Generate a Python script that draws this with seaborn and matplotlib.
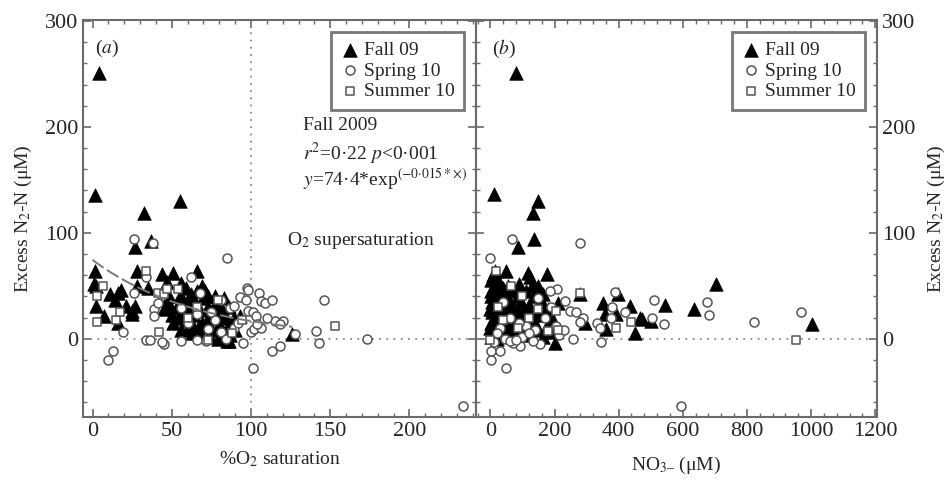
import numpy as np
import pandas as pd
import matplotlib
matplotlib.use("Agg")
import matplotlib.pyplot as plt
from matplotlib.ticker import MultipleLocator
import seaborn as sns

sns.set_style("ticks")
plt.rcParams["font.family"] = ["Liberation Serif", "DejaVu Serif"]
plt.rcParams["mathtext.fontset"] = "stix"

# ---------------- data ----------------
seasons = ["Fall 09", "Spring 10", "Summer 10"]

# Panel (a): %O2 saturation vs excess N2-N
fall_a_x = [4, 1.3, 32.5, 55, 37, 27, 1.5, 1, 2, 28, 44, 51, 66, 28, 35, 47, 56, 69, 77, 11, 16, 18,
            2, 7, 14, 21, 25, 27, 25, 16, 47, 49, 51, 59, 79, 86, 85, 93, 126,
            55, 58, 60, 62, 64, 65, 67, 68, 70, 72, 73, 75, 76, 78, 80, 82, 83, 84, 86, 88, 87,
            60, 57, 53, 63, 66, 71, 74, 69, 61, 54, 81, 89, 77, 59, 64, 50, 56, 48, 45, 80, 90,
            62, 68, 73, 85, 83]
fall_a_y = [251, 136, 119, 130, 92, 87, 64, 52, 50, 64, 61, 62, 64, 50, 48, 54, 53, 50, 40, 42, 43, 46,
            31, 21, 37, 31, 26, 31, 23, 15, 37, 31, 15, 18, 0, -2, 9, 21, 4,
            40, 35, 28, 42, 22, 33, 12, 27, 38, 18, 30, 8, 24, 35, 14, 28, 5, 20, 30, 12, 3,
            10, 25, 30, 5, 45, 45, 2, 15, 38, 20, 22, 20, 28, 48, 36, 22, 8, 40, 28, 33, 8,
            16, 6, 40, -2, 38]
spring_a_x = [26, 38, 85, 34, 62, 97.5, 98, 93, 97, 105, 106, 109, 113, 146, 98, 101, 103, 115, 120,
              118, 100, 102, 106, 141, 128, 143, 173, 95, 118, 113, 101, 10, 13, 234, 19, 33.5, 36,
              45, 44, 56, 66, 71.5, 39, 39, 26, 68, 81, 87, 89, 77, 73, 81, 89, 56, 66, 43, 41, 60,
              75, 84, 92, 104, 110]
spring_a_y = [94, 90, 76, 58, 58, 48, 46, 39, 37, 43, 36, 34, 37, 37, 26, 25, 21, 17, 17,
              14, 6, 9, 10, 7, 4, -4, 0, -4, -7, -12, -28, -20, -12, -64, 6, -1, -1,
              -5, -3, -2, -1, -2, 28, 21, 43, 43, 37, 29, 31, 18, 9, 6, 10, 29, 23, 42, 34, 15,
              25, 0, 15, 14, 20]
summer_a_x = [3, 6.5, 3, 33.5, 14.5, 17.5, 42, 153, 41, 45, 47, 54, 94, 73, 79, 66, 60, 88]
summer_a_y = [40, 50, 16, 64, 18, 25, 6, 12, 43, 42, 47, 47, 18, -1, 37, 30, 20, 5]

# Panel (b): NO3- vs excess N2-N
fall_b_x = [81, 10, 149, 133, 136, 86, 14, 50, 118, 177, 123, 149, 164, 703, 279, 398, 352, 435, 544,
            635, 357, 393, 466, 474, 502, 362, 294, 450, 1002, 201, 191, 211, 195,
            2, 3, 4, 5, 2, 6, 8, 10, 12, 15, 18, 20, 22, 25, 28, 30, 33, 35, 38, 40, 45, 48, 52,
            55, 58, 62, 65, 70, 72, 75, 80, 85, 90, 95, 100, 105, 110, 115, 120, 125, 130, 135,
            140, 145, 150, 155, 160, 170, 180, 0, 1, 0, 3, 60, 88, 130, 175, 165]
fall_b_y = [251, 137, 130, 119, 94, 87, 64, 64, 62, 61, 58, 50, 42, 52, 42, 42, 34, 31, 32,
            28, 23, 23, 20, 19, 17, 9, 15, 5, 14, -4, 6, 34, 18,
            55, 45, 35, 25, 15, 5, 60, 50, 40, 30, 20, 10, 0, 55, 45, 35, 25, 15, 48, 8, 30, 40, 20,
            50, 12, 35, 25, 45, 5, 30, 15, 40, 22, 35, 10, 28, 45, 18, 32, 3, 25, 40,
            15, 30, 8, 22, 35, 25, 28, 28, 40, 10, 2, 3, 52, 50, 12, 2]
spring_b_x = [66, 279, 0, 208, 388, 511, 676, 682, 967, 822, 542, 505, 1, 1, 31, 50, 594, 346, 258,
              248, 268, 289, 280, 331, 341, 232, 154, 92, 71, 133, 215, 230, 205, 375, 420, 380,
              30, 45, 60, 100, 110, 20, 10, 80, 170, 190, 140, 120, 90, 60, 40, 150, 185]
spring_b_y = [94, 90, 76, 47, 44, 37, 35, 22, 25, 16, 14, 20, -12, -20, -12, -28, -64, -3, 0,
              26, 25, 20, 16, 15, 10, 36, -5, -7, -4, -2, 3, 8, 12, 20, 25, 30,
              10, 0, -2, 2, 12, 5, -3, -1, 20, 30, 8, 5, 15, 20, 35, 38, 45]
summer_b_x = [953, 279, 440, 393, 19, 180, 204, 0, 100, 150, 40, 65, 25, 210, 120, 85]
summer_b_y = [-1, 43, 16, 10, 64, 7, 26, -1, 40, 28, 18, 50, 30, 8, 20, 10]

fit_a, fit_b = 74.4, -0.015
fit_xmax = 126

# ---------------- figure ----------------
fig = plt.figure(figsize=(9.5, 4.83), dpi=100)
axa = fig.add_axes([0.0874, 0.1366, 0.4137, 0.822])
axb = fig.add_axes([0.501, 0.1366, 0.422, 0.822], sharey=axa)

spine_col = "#6a6a6a"
FS = 14
TFS = 16


def draw(ax, fx, fy, sx, sy, ux, uy):
    sns.scatterplot(x=fx, y=fy, ax=ax, marker="^", s=95, color="black",
                    edgecolor="black", linewidth=0.5, label=seasons[0], zorder=3)
    sns.scatterplot(x=sx, y=sy, ax=ax, marker="o", s=42, facecolor="white",
                    edgecolor="#555555", linewidth=1.1, label=seasons[1], zorder=4)
    sns.scatterplot(x=ux, y=uy, ax=ax, marker="s", s=34, facecolor="white",
                    edgecolor="#555555", linewidth=1.1, label=seasons[2], zorder=4)
    ax.axhline(0, ls=(0, (1, 3)), color="#8a8a8a", lw=1.3, zorder=1)
    for s in ax.spines.values():
        s.set_color(spine_col)
        s.set_linewidth(1.5)
    ax.tick_params(which="both", direction="in", top=True, bottom=True, left=True, right=True,
                   color=spine_col, labelsize=TFS)
    ax.tick_params(which="major", length=6, width=1.2)
    ax.tick_params(which="minor", length=3, width=1.0)
    leg = ax.legend(loc="upper right", fontsize=FS, frameon=True, fancybox=False,
                    handletextpad=0.2, borderpad=0.5, labelspacing=0.15,
                    handlelength=1.0, borderaxespad=0.6)
    leg.get_frame().set_edgecolor("#555555")
    leg.get_frame().set_linewidth(2.0)


draw(axa, fall_a_x, fall_a_y, spring_a_x, spring_a_y, summer_a_x, summer_a_y)
draw(axb, fall_b_x, fall_b_y, spring_b_x, spring_b_y, summer_b_x, summer_b_y)

# fit curve in panel a
xf = np.linspace(0, fit_xmax, 100)
axa.plot(xf, fit_a * np.exp(fit_b * xf), color="#7a7a7a", lw=1.4, ls=(0, (7, 2)), zorder=5)
axa.axvline(100, ls=(0, (1, 3)), color="#8a8a8a", lw=1.3, zorder=1)

axa.set_ylim(-74, 301)
axa.xaxis.set_major_locator(MultipleLocator(50))
axa.xaxis.set_minor_locator(MultipleLocator(10))
axa.yaxis.set_major_locator(MultipleLocator(100))
axa.yaxis.set_minor_locator(MultipleLocator(20))
axa.set_xticks([0, 50, 100, 150, 200])
axa.set_xlim(-6, 242)

axb.set_xlim(-45, 1205)
axb.xaxis.set_major_locator(MultipleLocator(200))
axb.xaxis.set_minor_locator(MultipleLocator(40))
axb.tick_params(labelleft=False, labelright=True)
axb.yaxis.set_label_position("right")

axa.set_ylabel(r"Excess N$_2$-N (μM)", fontsize=FS, labelpad=8)
axb.set_ylabel(r"Excess N$_2$-N (μM)", fontsize=FS, labelpad=8)
axa.set_xlabel(r"%O$_2$ saturation", fontsize=FS, labelpad=6)
axb.set_xlabel(r"NO$_{\mathrm{3–}}$ (μM)", fontsize=FS, labelpad=10)

axa.text(0.03, 0.955, r"($a$)", transform=axa.transAxes, fontsize=FS, va="top")
axb.text(0.04, 0.955, r"($b$)", transform=axb.transAxes, fontsize=FS, va="top")

axa.text(0.56, 0.735, "Fall 2009", transform=axa.transAxes, fontsize=FS, va="center")
axa.text(0.56, 0.663, r"$r^2$=0·22 $p$<0·001", transform=axa.transAxes, fontsize=FS, va="center")
axa.text(0.56, 0.598, r"$y$=74·4*exp$^{(\mathrm{−0·015*×})}$", transform=axa.transAxes,
         fontsize=FS, va="center")
axa.text(0.52, 0.445, r"O$_2$ supersaturation", transform=axa.transAxes, fontsize=FS, va="center")

fig.savefig("out.png", dpi=100)
